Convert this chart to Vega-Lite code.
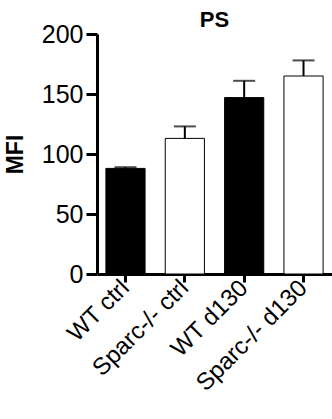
{
  "$schema": "https://vega.github.io/schema/vega-lite/v6.json",
  "autosize": {"type": "none"},
  "width": 235,
  "height": 240,
  "padding": {"left": 97, "top": 34, "right": 0, "bottom": 145},
  "title": {"text": "PS", "fontSize": 22, "fontWeight": "bold", "font": "Liberation Sans", "color": "black", "offset": -10},
  "data": {"values": [
    {"group": "WT ctrl", "type": "WT", "value": 88, "err": 89},
    {"group": "Sparc-/- ctrl", "type": "Sparc", "value": 113, "err": 123},
    {"group": "WT d130", "type": "WT", "value": 147, "err": 161},
    {"group": "Sparc-/- d130", "type": "Sparc", "value": 165, "err": 178}
  ]},
  "encoding": {
    "x": {"field": "group", "type": "nominal", "sort": null,
      "scale": {"paddingInner": 0.34, "paddingOuter": 0.15},
      "axis": {"title": null, "labelAngle": -45, "labelBaseline": "middle", "labelFontSize": 24, "tickSize": 8, "labelPadding": 2}}
  },
  "layer": [
    {"mark": {"type": "bar", "stroke": "black", "strokeWidth": 1},
     "encoding": {
       "y": {"field": "value", "type": "quantitative",
         "scale": {"domain": [0, 200]},
         "axis": {"values": [0, 50, 100, 150, 200], "title": "MFI", "titleFontSize": 23, "titleFontWeight": "bold", "titlePadding": 14, "labelFontSize": 25, "tickSize": 11, "labelPadding": 3}},
       "fill": {"field": "type", "type": "nominal", "scale": {"domain": ["WT", "Sparc"], "range": ["black", "white"]}, "legend": null}
     }},
    {"mark": {"type": "rule", "color": "black", "strokeWidth": 2},
     "encoding": {"y": {"field": "value", "type": "quantitative"}, "y2": {"field": "err"}}},
    {"mark": {"type": "tick", "color": "black", "thickness": 2, "size": 22},
     "encoding": {"y": {"field": "err", "type": "quantitative"}}}
  ],
  "config": {
    "view": {"stroke": null},
    "axis": {"grid": false, "domainColor": "black", "domainWidth": 3, "tickColor": "black", "tickWidth": 3, "labelColor": "black", "labelFont": "Liberation Sans", "titleFont": "Liberation Sans", "titleColor": "black"}
  }
}
